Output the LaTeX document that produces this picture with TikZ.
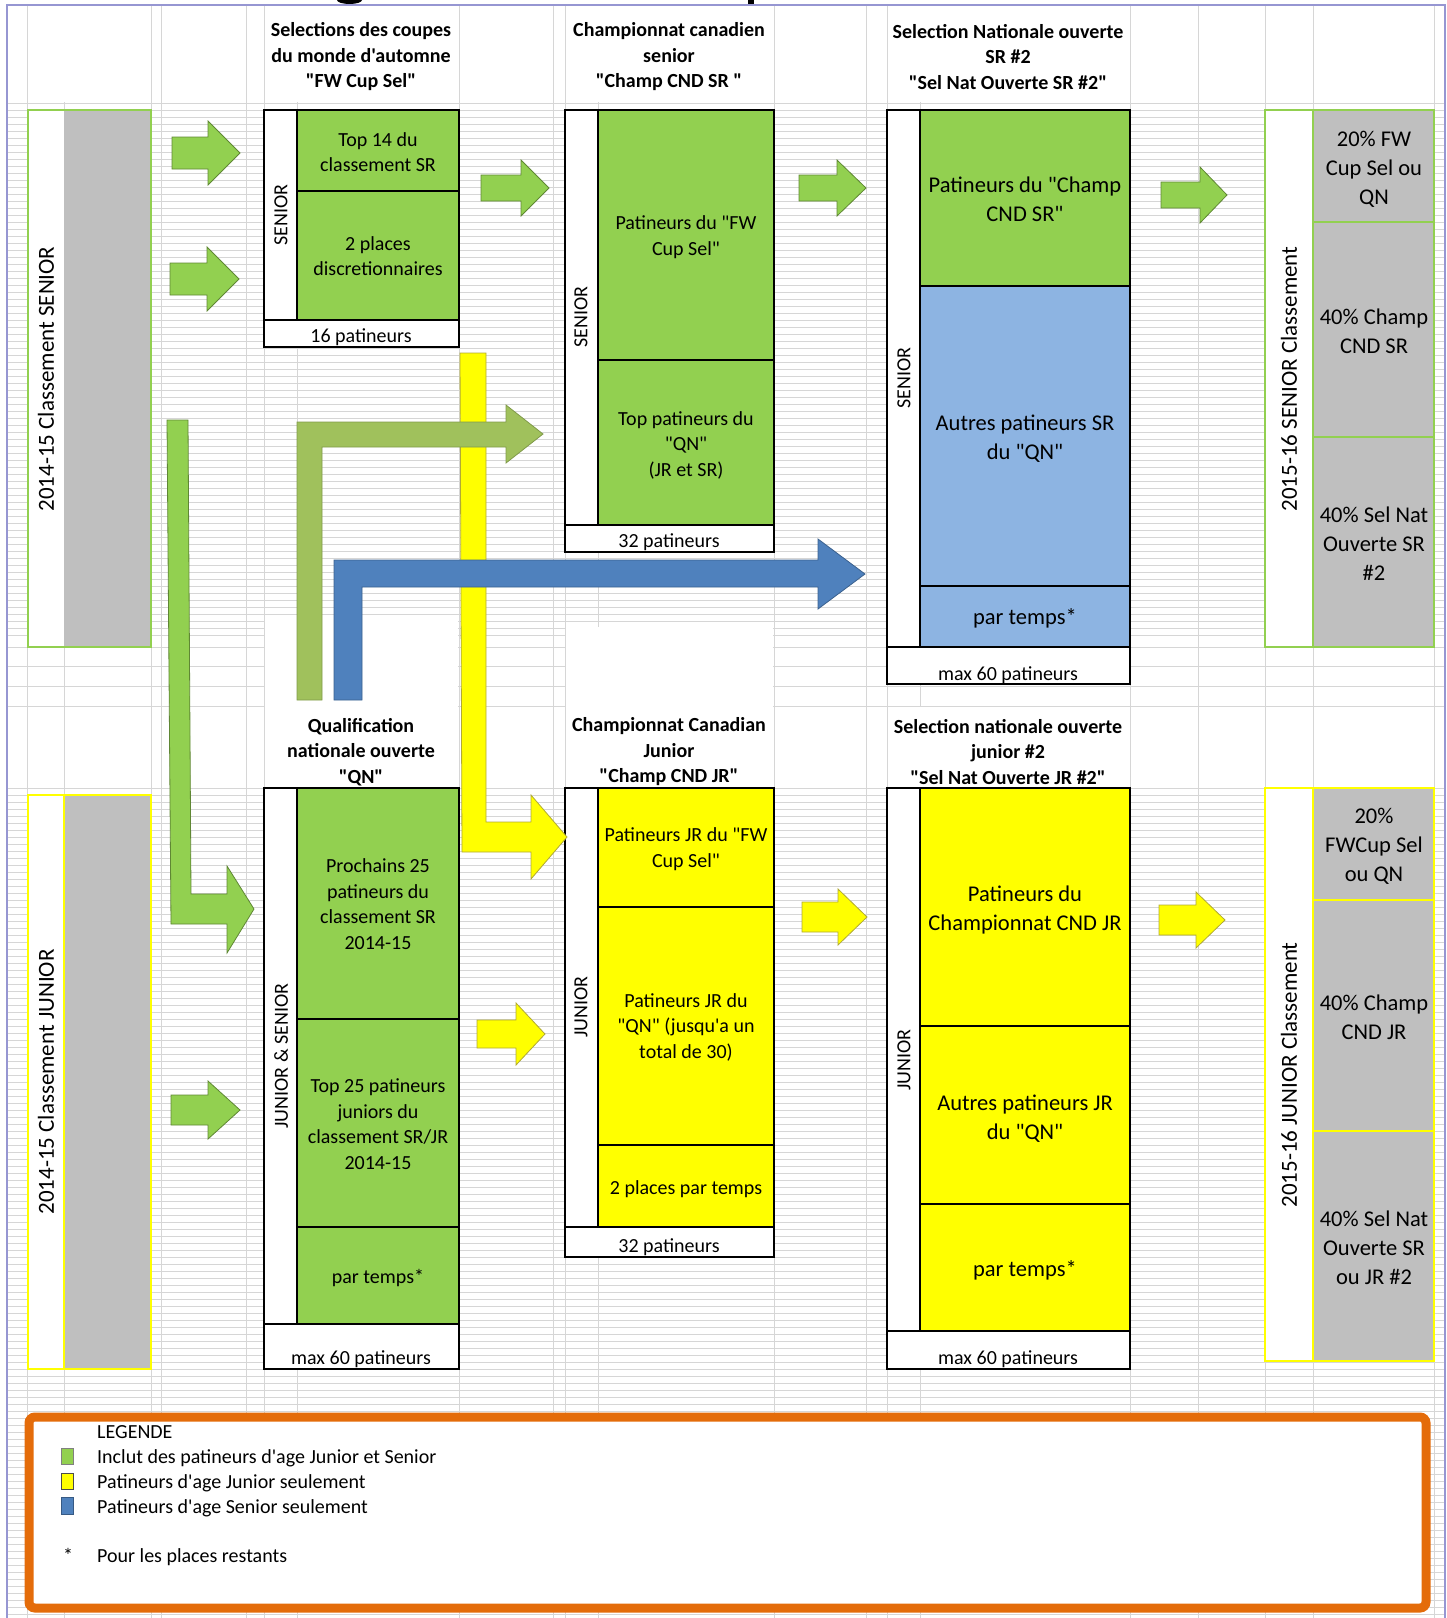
\documentclass[tikz,border=0pt]{standalone}
\usepackage{fontspec}
\setmainfont{Carlito}[Ligatures=TeXOff]
\usepackage{xcolor}
\definecolor{cellgreen}{RGB}{146,208,80}
\definecolor{cellyellow}{RGB}{255,255,0}
\definecolor{cellblue}{RGB}{141,180,226}
\definecolor{rankgray}{RGB}{191,191,191}
\definecolor{gridgray}{RGB}{214,214,214}
\definecolor{olivearrow}{RGB}{160,193,92}
\definecolor{bluearrow}{RGB}{79,129,189}
\definecolor{legendorange}{RGB}{228,108,10}
\definecolor{framepurple}{RGB}{150,150,210}

% block arrow: style, x start, x head, x tip, y centre, shaft half, head half
\newcommand{\flecheblock}[7]{%
  \filldraw[#1] (#2,#5-#6) -- (#3,#5-#6) -- (#3,#5-#7) -- (#4,#5)
    -- (#3,#5+#7) -- (#3,#5+#6) -- (#2,#5+#6) -- cycle;}

\begin{document}
\begin{tikzpicture}[x=1pt, y=-1pt,
    txt/.style={font=\fontsize{20}{25.5}\selectfont, align=center, inner sep=0pt},
    bigtxt/.style={font=\fontsize{22.5}{29}\selectfont, align=center, inner sep=0pt},
    head/.style={font=\fontsize{20}{25.5}\selectfont\bfseries, align=center, inner sep=0pt},
    sidetxt/.style={font=\fontsize{23}{28}\selectfont, rotate=90, inner sep=0pt},
    agetxt/.style={font=\fontsize{20}{25}\selectfont, rotate=90, inner sep=0pt},
    box/.style={draw=black, line width=1.3pt},
    gridline/.style={gridgray, line width=0.9pt},
    greenarrow/.style={fill=cellgreen, draw=cellgreen!65!black, line width=0.8pt},
    yellowarrow/.style={fill=cellyellow, draw=olive!70, line width=0.8pt},
    olivebent/.style={fill=olivearrow, draw=olivearrow!80!black, line width=0.8pt},
    bluebent/.style={fill=bluearrow, draw=bluearrow!75!black, line width=0.8pt}]
    \useasboundingbox (0,0) rectangle (1447,1618);

    % Title remnants cut at the top
    \fill[black] (337,0) arc[start angle=180, end angle=0, x radius=12.5, y radius=4] -- cycle;
    \fill[black] (748,0) rectangle (754,4);

    % Spreadsheet grid
    \foreach \y in {103,110,...,640} \draw[gridline] (7,\y) -- (1445,\y);
    \foreach \y in {647,666,686,706} \draw[gridline] (7,\y) -- (1445,\y);
    \foreach \y in {788,795,...,1618} \draw[gridline] (7,\y) -- (1445,\y);
    \foreach \x in {27,64,151,161,246,264,297,459,553,565,598,774,866,887,920,1130,1198,1265,1313,1434}
        \draw[gridline] (\x,5) -- (\x,1618);
    % merged header cells
    \fill[white] (28,6) rectangle (150,102);
    \fill[white] (265,6) rectangle (458,102);
    \fill[white] (566,6) rectangle (773,102);
    \fill[white] (888,6) rectangle (1129,102);
    \fill[white] (265,619) rectangle (458,787);
    \fill[white] (566,627) rectangle (773,787);
    \fill[white] (888,707) rectangle (1129,787);
    \draw[framepurple, line width=1.2pt] (7,1618) -- (7,5) -- (1445,5) -- (1445,1618);

    % 2014-15 rankings
    \fill[white] (28,110) rectangle (64,647);
    \fill[rankgray] (64,110) rectangle (151,647);
    \draw[cellgreen, line width=1.2pt] (28,110) rectangle (151,647);
    \fill[white] (28,795) rectangle (64,1369);
    \fill[rankgray] (64,795) rectangle (151,1369);
    \draw[cellyellow, line width=1.2pt] (28,795) rectangle (151,1369) (64,795) -- (64,1369);
    \node[sidetxt] (rksr) at (46,379) {2014-15 Classement SENIOR};
    \node[sidetxt] (rkjr) at (46,1082) {2014-15 Classement JUNIOR};

    % 2015-16 rankings
    \fill[white] (1265,110) rectangle (1313,647);
    \fill[rankgray] (1313,110) rectangle (1434,647);
    \draw[cellgreen, line width=2pt] (1265,110) rectangle (1434,647)
        (1313,110) -- (1313,647) (1313,222) -- (1434,222) (1313,437) -- (1434,437);
    \fill[white] (1265,788) rectangle (1313,1361);
    \fill[rankgray] (1313,788) rectangle (1434,1361);
    \draw[cellyellow, line width=1.5pt] (1265,788) rectangle (1434,1361)
        (1313,788) -- (1313,1361) (1313,900) -- (1434,900) (1313,1131) -- (1434,1131);
    \node[sidetxt] (nxsr) at (1289,379) {2015-16 SENIOR Classement};
    \node[sidetxt] (nxjr) at (1289,1075) {2015-16 JUNIOR Classement};
    \node[bigtxt] (nxsr1) at (1374,169) {20\% FW\\Cup Sel ou\\QN};
    \node[bigtxt] (nxsr2) at (1374,331) {40\% Champ\\CND SR};
    \node[bigtxt] (nxsr3) at (1374,544) {40\% Sel Nat\\Ouverte SR\\\#2};
    \node[bigtxt] (nxjr1) at (1374,846) {20\%\\FWCup Sel\\ou QN};
    \node[bigtxt] (nxjr2) at (1374,1017) {40\% Champ\\CND JR};
    \node[bigtxt] (nxjr3) at (1374,1248) {40\% Sel Nat\\Ouverte SR\\ou JR \#2};

    % FW Cup Sel
    \fill[white] (264,110) rectangle (459,347);
    \fill[cellgreen] (297,110) rectangle (459,320);
    \draw[box] (264,110) rectangle (459,347) (297,110) -- (297,320)
        (264,320) -- (459,320) (297,191) -- (459,191);
    \node[head] (hfw) at (361,57) {Selections des coupes\\du monde d'automne\\"FW Cup Sel"};
    \node[agetxt] (agefw) at (281,215) {SENIOR};
    \node[txt] (fw1) at (378,152) {Top 14 du\\classement SR};
    \node[txt] (fw2) at (378,256) {2 places\\discretionnaires};
    \node[txt] (fwn) at (361,337) {16 patineurs};

    % Champ CND SR
    \fill[white] (565,110) rectangle (774,552);
    \fill[cellgreen] (598,110) rectangle (774,525);
    \draw[box] (565,110) rectangle (774,552) (598,110) -- (598,525)
        (565,525) -- (774,525) (598,360) -- (774,360);
    \node[head] (hcsr) at (669,57) {Championnat canadien\\senior\\"Champ CND SR\ "};
    \node[agetxt] (agecsr) at (581,317) {SENIOR};
    \node[txt] (csr1) at (686,237) {Patineurs du "FW\\Cup Sel"};
    \node[txt] (csr2) at (686,445) {Top patineurs du\\"QN"\\(JR et SR)};
    \node[txt] (csrn) at (669,542) {32 patineurs};

    % Sel Nat Ouverte SR #2
    \fill[white] (887,110) rectangle (1130,684);
    \fill[cellgreen] (920,110) rectangle (1130,286);
    \fill[cellblue] (920,286) rectangle (1130,647);
    \draw[box] (887,110) rectangle (1130,684) (920,110) -- (920,647)
        (887,647) -- (1130,647) (920,286) -- (1130,286) (920,586) -- (1130,586);
    \node[head] (hnsr) at (1008,57) {Selection Nationale ouverte\\SR \#2\\"Sel Nat Ouverte SR \#2"};
    \node[agetxt] (agensr) at (904,378) {SENIOR};
    \node[bigtxt] (nsr1) at (1025,199) {Patineurs du "Champ\\CND SR"};
    \node[bigtxt] (nsr2) at (1025,439) {Autres patineurs SR\\du "QN"};
    \node[bigtxt] (nsr3) at (1025,618) {par temps*};
    \node[txt] (nsrn) at (1008,675) {max 60 patineurs};

    % QN
    \fill[white] (264,788) rectangle (459,1369);
    \fill[cellgreen] (297,788) rectangle (459,1324);
    \draw[box] (264,788) rectangle (459,1369) (297,788) -- (297,1324)
        (264,1324) -- (459,1324) (297,1019) -- (459,1019) (297,1227) -- (459,1227);
    \node[head] (hqn) at (361,752) {Qualification\\nationale ouverte\\"QN"};
    \node[agetxt] (ageqn) at (281,1056) {JUNIOR \& SENIOR};
    \node[txt] (qn1) at (378,904) {Prochains 25\\patineurs du\\classement SR\\2014-15};
    \node[txt] (qn2) at (378,1124) {Top 25 patineurs\\juniors du\\classement SR/JR\\2014-15};
    \node[txt] (qn3) at (378,1278) {par temps*};
    \node[txt] (qnn) at (361,1359) {max 60 patineurs};

    % Champ CND JR
    \fill[white] (565,788) rectangle (774,1257);
    \fill[cellyellow] (598,788) rectangle (774,1227);
    \draw[box] (565,788) rectangle (774,1257) (598,788) -- (598,1227)
        (565,1227) -- (774,1227) (598,907) -- (774,907) (598,1145) -- (774,1145);
    \node[head] (hcjr) at (669,752) {Championnat Canadian\\Junior\\"Champ CND JR"};
    \node[agetxt] (agecjr) at (581,1007) {JUNIOR};
    \node[txt] (cjr1) at (686,849) {Patineurs JR du "FW\\Cup Sel"};
    \node[txt] (cjr2) at (686,1027) {Patineurs JR du\\"QN" (jusqu'a un\\total de 30)};
    \node[txt] (cjr3) at (686,1189) {2 places par temps};
    \node[txt] (cjrn) at (669,1247) {32 patineurs};

    % Sel Nat Ouverte JR #2
    \fill[white] (887,788) rectangle (1130,1369);
    \fill[cellyellow] (920,788) rectangle (1130,1331);
    \draw[box] (887,788) rectangle (1130,1369) (920,788) -- (920,1331)
        (887,1331) -- (1130,1331) (920,1026) -- (1130,1026) (920,1204) -- (1130,1204);
    \node[head] (hnjr) at (1008,752) {Selection nationale ouverte\\junior \#2\\"Sel Nat Ouverte JR \#2"};
    \node[agetxt] (agenjr) at (904,1060) {JUNIOR};
    \node[bigtxt] (njr1) at (1025,910) {Patineurs du\\Championnat CND JR};
    \node[bigtxt] (njr2) at (1025,1119) {Autres patineurs JR\\du "QN"};
    \node[bigtxt] (njr3) at (1025,1270) {par temps*};
    \node[txt] (njrn) at (1008,1359) {max 60 patineurs};

    % Bent arrows
    \filldraw[yellowarrow] (460,353) -- (486,353) -- (486,822) -- (531,822) -- (531,795)
        -- (567,837) -- (531,879) -- (531,852) -- (462,852) -- cycle;
    \filldraw[olivebent] (297,700) -- (297,422) -- (506,422) -- (506,405) -- (543,434)
        -- (506,463) -- (506,447) -- (322,447) -- (322,700) -- cycle;
    \filldraw[bluebent] (334,700) -- (334,560) -- (818,560) -- (818,539) -- (865,574)
        -- (818,609) -- (818,587) -- (362,587) -- (362,700) -- cycle;
    \filldraw[greenarrow] (167,420) -- (188,420) -- (191,894) -- (227,894) -- (227,866)
        -- (254,909) -- (227,953) -- (227,924) -- (171,924) -- cycle;

    % Block arrows
    \flecheblock{greenarrow}{172}{208}{240}{153}{16}{32}
    \flecheblock{greenarrow}{170}{207}{239}{279}{16}{32}
    \flecheblock{greenarrow}{171}{208}{240}{1110}{15}{29}
    \flecheblock{greenarrow}{481}{521}{549}{188}{13}{28}
    \flecheblock{greenarrow}{799}{837}{866}{188}{13}{28}
    \flecheblock{greenarrow}{1161}{1200}{1227}{195}{13}{28}
    \flecheblock{yellowarrow}{477}{516}{545}{1034}{14}{31}
    \flecheblock{yellowarrow}{802}{838}{867}{917}{15}{28}
    \flecheblock{yellowarrow}{1159}{1196}{1225}{920}{15}{28}

    % Legend
    \filldraw[draw=legendorange, fill=white, line width=9pt, rounded corners=6pt]
        (29,1417) rectangle (1426,1608);
    \node[txt, anchor=base west] (legtitle) at (97,1438) {LEGENDE};
    \filldraw[fill=cellgreen, draw=gray, line width=0.8pt] (61,1448) rectangle (73,1464);
    \node[txt, anchor=base west] (leggreen) at (97,1463) {Inclut des patineurs d'age Junior et Senior};
    \filldraw[fill=cellyellow, draw=black!70, line width=0.8pt] (61,1473) rectangle (73,1489);
    \node[txt, anchor=base west] (legyellow) at (97,1488) {Patineurs d'age Junior seulement};
    \filldraw[fill=bluearrow, draw=bluearrow!70!black, line width=0.8pt] (61,1497) rectangle (73,1514);
    \node[txt, anchor=base west] (legblue) at (97,1513) {Patineurs d'age Senior seulement};
    \node[txt, anchor=base] (legstar) at (68,1562) {*};
    \node[txt, anchor=base west] (legnote) at (97,1562) {Pour les places restants};
\end{tikzpicture}
\end{document}
